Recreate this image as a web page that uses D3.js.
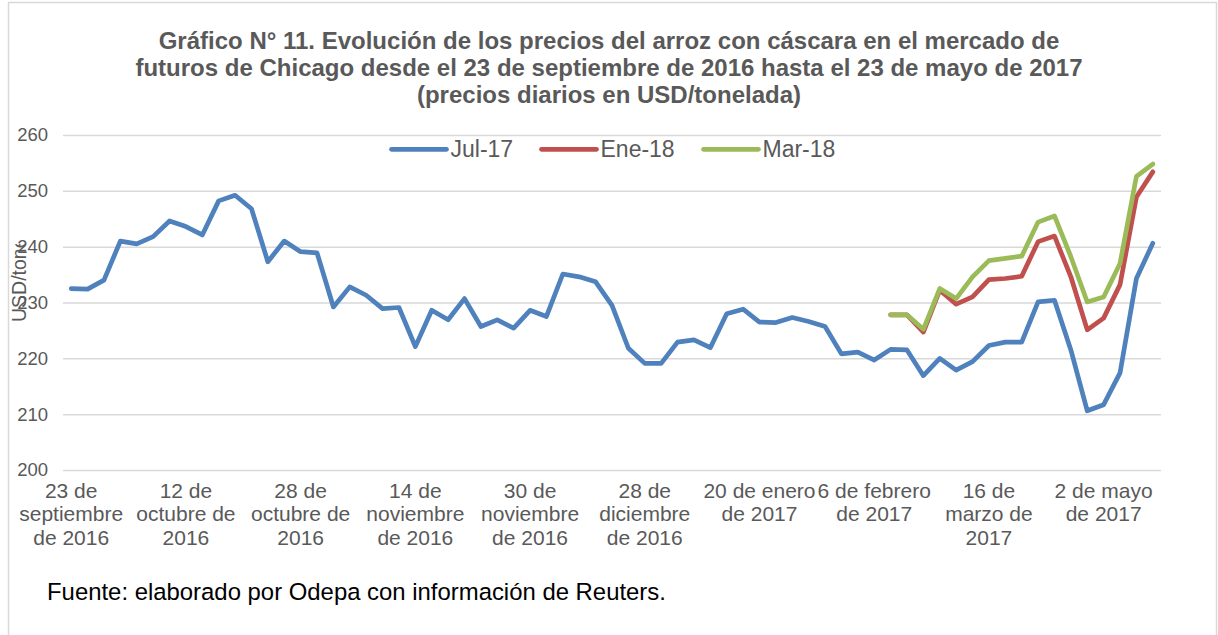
<!DOCTYPE html>
<html>
<head>
<meta charset="utf-8">
<script src="https://cdn.jsdelivr.net/npm/d3@7"></script>
<style>
  html, body { margin: 0; padding: 0; background: #ffffff; }
  svg { display: block; font-family: "Liberation Sans", Arial, sans-serif; }
</style>
</head>
<body>
<svg id="chart" width="1218" height="635"></svg>
<script>
// ---- data ----
const titleLines = [
  "Gráfico N° 11. Evolución de los precios del arroz con cáscara en el mercado de",
  "futuros de Chicago desde el 23 de septiembre de 2016 hasta el 23 de mayo de 2017",
  "(precios diarios en USD/tonelada)"
];
const seriesNames = ["Jul-17", "Ene-18", "Mar-18"];
const seriesColors = ["#4f81bd", "#c0504d", "#9bbb59"];
const yTicks = [200, 210, 220, 230, 240, 250, 260];
const tickIndex = [0, 7, 14, 21, 28, 35, 42, 49, 56, 63];
const tickLabels = [
  ["23 de", "septiembre", "de 2016"],
  ["12 de", "octubre de", "2016"],
  ["28 de", "octubre de", "2016"],
  ["14 de", "noviembre", "de 2016"],
  ["30 de", "noviembre", "de 2016"],
  ["28 de", "diciembre", "de 2016"],
  ["20 de enero", "de 2017"],
  ["6 de febrero", "de 2017"],
  ["16 de", "marzo de", "2017"],
  ["2 de mayo", "de 2017"]
];
const jul17 = [
  232.5, 232.4, 234.0, 241.0, 240.5, 241.8, 244.6, 243.6, 242.1, 248.2,
  249.2, 246.8, 237.3, 241.0, 239.1, 238.9, 229.2, 232.8, 231.3, 228.9,
  229.1, 222.1, 228.6, 226.9, 230.7, 225.7, 226.9, 225.4, 228.6, 227.5,
  235.1, 234.6, 233.7, 229.5, 221.8, 219.1, 219.1, 222.9, 223.3, 221.9,
  228.0, 228.8, 226.5, 226.4, 227.3, 226.6, 225.7, 220.8, 221.1, 219.7,
  221.6, 221.5, 216.9, 220.0, 217.9, 219.4, 222.3, 222.9, 222.9, 230.1,
  230.4, 221.5, 210.6, 211.7, 217.4, 234.3, 240.6
];
const ene18Start = 50;
const ene18 = [227.8, 227.8, 224.7, 232.2, 229.7, 231.0, 234.1, 234.3, 234.7,
  240.9, 241.9, 234.6, 225.1, 227.2, 233.2, 248.9, 253.4];
const mar18Start = 50;
const mar18 = [227.8, 227.8, 225.2, 232.5, 230.7, 234.6, 237.5, 237.9, 238.3,
  244.4, 245.5, 238.2, 230.1, 231.0, 237.0, 252.6, 254.8];
const yAxisTitle = "USD/tonelada";
const sourceText = "Fuente: elaborado por Odepa con información de Reuters.";

// ---- layout ----
const W = 1218, H = 635;
const plot = { left: 63, right: 1161, top: 135, bottom: 470 };
const textColor = "#595959";

const svg = d3.select("#chart");

// outer border
svg.append("rect")
  .attr("x", 8.5).attr("y", 2.5)
  .attr("width", 1208).attr("height", 640)
  .attr("fill", "#ffffff").attr("stroke", "#d9d9d9").attr("stroke-width", 1.5);

// title
svg.append("g").selectAll("text").data(titleLines).join("text")
  .attr("x", 609)
  .attr("y", (d, i) => 49 + i * 27)
  .attr("text-anchor", "middle")
  .attr("font-size", 24)
  .attr("font-weight", "bold")
  .attr("fill", textColor)
  .text(d => d);

// scales
const n = jul17.length;
const x = d3.scaleBand().domain(d3.range(n)).range([plot.left, plot.right]);
const cx = i => x(i) + x.bandwidth() / 2;
const y = d3.scaleLinear().domain([200, 260]).range([plot.bottom, plot.top]);

// gridlines
svg.append("g")
  .attr("transform", `translate(${plot.left},0)`)
  .call(d3.axisLeft(y).tickValues(yTicks).tickSize(-(plot.right - plot.left)).tickFormat(""))
  .call(g => g.select(".domain").remove())
  .call(g => g.selectAll("line").attr("stroke", "#d9d9d9").attr("stroke-width", 1.5));

// y tick labels
svg.append("g")
  .attr("transform", `translate(${plot.left},0)`)
  .call(d3.axisLeft(y).tickValues(yTicks).tickSize(0).tickPadding(15))
  .call(g => g.select(".domain").remove())
  .call(g => g.selectAll("text")
    .attr("font-family", "Liberation Sans, Arial, sans-serif")
    .attr("font-size", 18.5).attr("fill", textColor));

// x tick labels
const xAxis = svg.append("g")
  .attr("transform", `translate(0,${plot.bottom})`)
  .call(d3.axisBottom(x).tickValues(tickIndex).tickSize(0).tickFormat(""))
  .call(g => g.select(".domain").remove());
xAxis.selectAll(".tick").each(function(d) {
  const k = tickIndex.indexOf(d);
  const t = d3.select(this).append("text")
    .attr("text-anchor", "middle")
    .attr("font-size", 21)
    .attr("fill", textColor);
  tickLabels[k].forEach((line, j) => {
    t.append("tspan").attr("x", 0).attr("y", 28 + j * 23.3).text(line);
  });
});

// y axis title (partially hidden as in the reference)
svg.append("defs").append("clipPath").attr("id", "ytclip")
  .append("rect").attr("x", 0).attr("y", 244).attr("width", 40).attr("height", 100);
svg.append("g")
  .attr("clip-path", "url(#ytclip)")
  .append("text")
  .attr("transform", "translate(26,322) rotate(-90)")
  .attr("font-size", 19.5)
  .attr("fill", textColor)
  .text(yAxisTitle);

// lines
const line = d3.line()
  .defined(d => d.v != null)
  .x(d => cx(d.i))
  .y(d => y(d.v));
const series = [
  jul17.map((v, i) => ({ i, v })),
  ene18.map((v, k) => ({ i: ene18Start + k, v })),
  mar18.map((v, k) => ({ i: mar18Start + k, v }))
];
svg.append("g").selectAll("path").data(series).join("path")
  .attr("d", line)
  .attr("fill", "none")
  .attr("stroke", (d, i) => seriesColors[i])
  .attr("stroke-width", 4.7)
  .attr("stroke-linejoin", "round")
  .attr("stroke-linecap", "round");

// legend
const legendX = [391.5, 541.5, 703.5];
const lg = svg.append("g").selectAll("g").data(seriesNames).join("g")
  .attr("transform", (d, i) => `translate(${legendX[i]},149.3)`);
lg.append("line")
  .attr("x1", 0).attr("x2", 55).attr("y1", 0).attr("y2", 0)
  .attr("stroke", (d, i) => seriesColors[i])
  .attr("stroke-width", 4.7).attr("stroke-linecap", "round");
lg.append("text")
  .attr("x", 59).attr("y", 7.8)
  .attr("font-size", 23)
  .attr("fill", textColor)
  .text(d => d);

// source
svg.append("text")
  .attr("x", 47).attr("y", 600)
  .attr("font-size", 23.9)
  .attr("fill", "#000000")
  .text(sourceText);
</script>
</body>
</html>
